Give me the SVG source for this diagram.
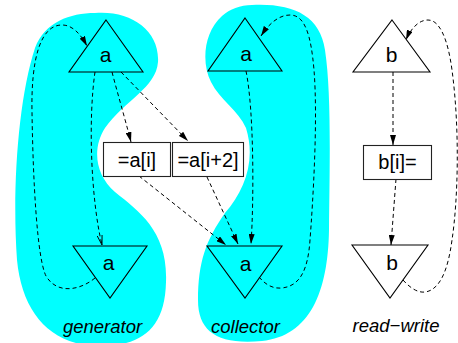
<svg xmlns="http://www.w3.org/2000/svg" width="458" height="343" viewBox="0 0 458 343">
<style>
.blob{fill:#00ffff;stroke:none}
.tri{fill:none;stroke:#000;stroke-width:1.1}
.box{fill:#fff;stroke:#222;stroke-width:1.1}
.lbl{font-family:"Liberation Sans",Arial,sans-serif;font-size:21px;text-anchor:middle;fill:#000}
.blbl{font-family:"Liberation Sans",Arial,sans-serif;font-size:20px;text-anchor:middle;fill:#000}
.cap{font-family:"Liberation Sans",Arial,sans-serif;font-size:18.5px;font-style:italic;text-anchor:middle;fill:#000}
.e{fill:none;stroke:#000;stroke-width:1;stroke-dasharray:4 3;marker-end:url(#ah)}
.eo{fill:none;stroke:#000;stroke-width:1;stroke-dasharray:4 3;marker-end:url(#ao)}
</style>
<defs>
<marker id="ah" viewBox="0 0 10 6" refX="10" refY="3" markerWidth="10" markerHeight="6" markerUnits="userSpaceOnUse" orient="auto">
<path d="M0,0 L10,3 L0,6 Z" fill="#000"/>
</marker>
<marker id="ao" viewBox="0 0 10 6" refX="10" refY="3" markerWidth="10" markerHeight="6" markerUnits="userSpaceOnUse" orient="auto">
<path d="M0,0.5 L10,3 L0,5.5" fill="none" stroke="#000" stroke-width="0.9"/>
</marker>
</defs>
<g id="blobs">
<path class="blob" d="M95 13 C130 10 160 30 158 62 C156 88 125 100 105 128 C92 148 95 175 115 192 C140 212 168 232 166 282 C165 330 140 346 100 346 C50 346 22 312 17 260 C12 190 18 100 35 48 C45 22 70 13 95 13 Z"/>
<path class="blob" d="M252 5 C292 3 320 15 325 50 C331 90 330 150 329 230 C328 292 310 336 262 341 C218 345 198 332 198 300 C198 262 206 240 225 213 C245 190 256 160 246 128 C238 110 220 100 211 82 C201 62 204 32 222 16 C230 9 240 5 252 5 Z"/>
</g>
<g id="connectors">
<path class="e" d="M95 278 C82 289 58 296 46 276 C37 258 33 180 32 112 C31 60 40 25 62 25 C72 25 80 33 87 46"/>
<path class="eo" d="M95 72 C88 120 91 200 102 245"/>
<path class="e" d="M112 72 C118 95 124 115 131 142"/>
<path class="e" d="M121 72 L188 141"/>
<path class="e" d="M139 176 L226 245"/>
<path class="e" d="M207 177 L238 244"/>
<path class="e" d="M246 71 C254 110 254 200 251 244"/>
<path class="e" d="M259 277 C265 284 272 289 282 288 C300 286 308 270 310 240 C313 200 318 120 314 70 C311 35 305 15 290 15 C278 15 268 25 261 36"/>
<path class="e" d="M403 280 C410 288 418 293 425 292 C440 290 448 270 452 240 C458 200 460 130 452 70 C448 40 440 20 428 20 C418 20 410 30 406 40"/>
<path class="e" d="M393 72 L393 145"/>
<path class="e" d="M396 179 L391 245"/>
</g>
<g id="gen-top"><path class="tri" d="M106 20 L143 72 L69 72 Z"/><text class="lbl" x="105.5" y="62">a</text></g>
<g id="gen-bot"><path class="tri" d="M73 246 L147 246 L110 298 Z"/><text class="lbl" x="108.5" y="270">a</text></g>
<g id="col-top"><path class="tri" d="M245 18 L282 71 L208 71 Z"/><text class="lbl" x="246" y="61">a</text></g>
<g id="col-bot"><path class="tri" d="M207 246 L282 246 L245 298 Z"/><text class="lbl" x="245.5" y="270.5">a</text></g>
<g id="rw-top"><path class="tri" d="M392 20 L430 72 L353 72 Z"/><text class="lbl" x="391.5" y="62">b</text></g>
<g id="rw-bot"><path class="tri" d="M352 245 L428 245 L390 298 Z"/><text class="lbl" x="392" y="270">b</text></g>
<g id="box-ai"><rect class="box" x="103.5" y="142.5" width="67" height="34"/><text class="blbl" x="137" y="166.5">=a[i]</text></g>
<g id="box-ai2"><rect class="box" x="172.5" y="142.5" width="71" height="34"/><text class="blbl" x="208" y="166.5">=a[i+2]</text></g>
<g id="box-bi"><rect class="box" x="363.5" y="145.5" width="68" height="34"/><text class="blbl" x="397.5" y="169">b[i]=</text></g>
<g id="captions">
<text class="cap" x="102.5" y="333">generator</text>
<text class="cap" x="245.5" y="333">collector</text>
<text class="cap" x="396" y="332">read−write</text>
</g>
</svg>
